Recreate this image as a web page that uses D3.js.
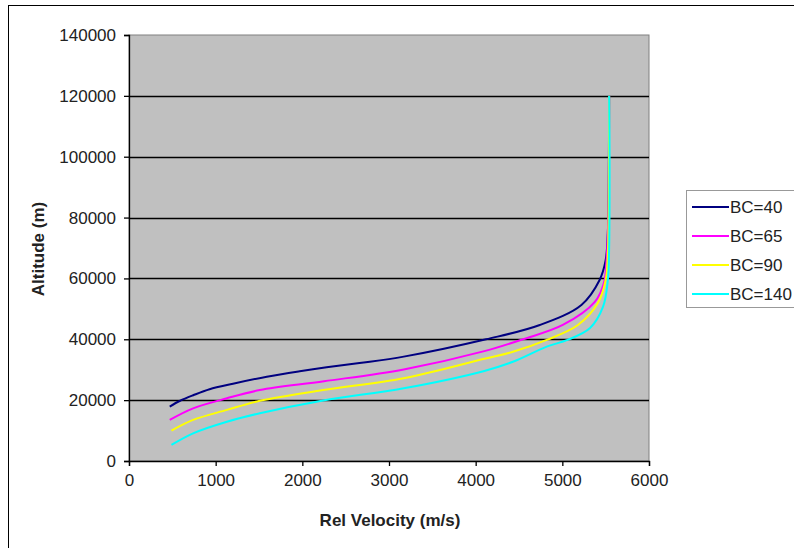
<!DOCTYPE html>
<html>
<head>
<meta charset="utf-8">
<script src="https://cdn.jsdelivr.net/npm/d3@7"></script>
<style>
  body { margin: 0; background: #fff; }
  svg text { font-family: Arial, "Liberation Sans", sans-serif; fill: #222; }
</style>
</head>
<body>
<div id="chart"></div>
<script>
// series names and colours
const seriesNames = ["BC=40", "BC=65", "BC=90", "BC=140"];
const seriesColors = ["#000080", "#ff00ff", "#ffff00", "#00ffff"];

// velocity (m/s) / altitude (m)
const velBC40 = [470, 590, 740, 930, 1200, 1590, 1970, 2280, 2660, 3170, 4120, 4740, 5220, 5430, 5500, 5525, 5535, 5540];
const altBC40 = [17900, 19800, 21600, 23600, 25400, 27700, 29500, 30800, 32200, 34300, 40000, 44700, 51300, 59500, 66000, 75000, 90000, 120000];

const velBC65 = [470, 740, 1130, 1510, 2250, 3170, 4100, 4545, 5005, 5375, 5480, 5510, 5530, 5540];
const altBC65 = [13500, 17300, 20600, 23300, 26200, 30100, 36100, 40000, 44700, 52300, 58500, 66000, 80000, 120000];

const velBC90 = [490, 740, 1130, 1510, 2240, 3170, 4100, 4430, 4820, 5180, 5410, 5500, 5525, 5535, 5540];
const altBC90 = [10000, 13500, 16800, 19800, 23300, 27200, 33600, 35900, 39800, 44700, 51900, 59500, 68000, 85000, 120000];

const velBC140 = [490, 740, 1130, 1510, 2240, 3170, 4100, 4430, 4820, 5060, 5320, 5470, 5525, 5540, 5545, 5540];
const altBC140 = [5300, 9100, 12900, 15700, 19900, 23900, 29600, 32600, 37600, 39800, 43700, 50700, 59500, 70000, 100000, 120000];

const xTicks = [0, 1000, 2000, 3000, 4000, 5000, 6000];
const yTicks = [0, 20000, 40000, 60000, 80000, 100000, 120000, 140000];

const seriesVel = [velBC40, velBC65, velBC90, velBC140];
const seriesAlt = [altBC40, altBC65, altBC90, altBC140];

const W = 794, H = 548;
const plot = { left: 129, right: 649, top: 35, bottom: 461 };

const svg = d3.select("#chart").append("svg").attr("width", W).attr("height", H);

// outer chart frame
svg.append("rect").attr("x", 8.5).attr("y", 5.5).attr("width", 820).attr("height", 580)
  .attr("fill", "#fff").attr("stroke", "#000").attr("stroke-width", 1);

const x = d3.scaleLinear().domain([0, 6000]).range([plot.left, plot.right]);
const y = d3.scaleLinear().domain([0, 140000]).range([plot.bottom, plot.top]);

// plot area
svg.append("rect").attr("x", plot.left).attr("y", plot.top)
  .attr("width", plot.right - plot.left).attr("height", plot.bottom - plot.top)
  .attr("fill", "#c0c0c0").attr("stroke", "#808080").attr("stroke-width", 1);

// gridlines
svg.append("g").selectAll("line").data(yTicks.filter(d => d > 0 && d < 140000)).enter().append("line")
  .attr("x1", plot.left).attr("x2", plot.right)
  .attr("y1", d => Math.round(y(d)) + 0.5).attr("y2", d => Math.round(y(d)) + 0.5)
  .attr("stroke", "#000").attr("stroke-width", 1.3);

// axes
const xAxis = svg.append("g").attr("transform", "translate(0," + plot.bottom + ")")
  .call(d3.axisBottom(x).tickValues(xTicks).tickSize(5).tickPadding(8).tickFormat(d3.format("d")));
const yAxis = svg.append("g").attr("transform", "translate(" + plot.left + ",0)")
  .call(d3.axisLeft(y).tickValues(yTicks).tickSize(5).tickPadding(8).tickFormat(d3.format("d")));

[xAxis, yAxis].forEach(a => {
  a.select(".domain").attr("stroke", "#000").attr("stroke-width", 1.3);
  a.selectAll(".tick line").attr("stroke", "#000").attr("stroke-width", 1.3);
  a.selectAll(".tick text").attr("font-size", 17).attr("font-family", "Arial, 'Liberation Sans', sans-serif").attr("fill", "#222");
});

// series lines
const line = d3.line().curve(d3.curveCatmullRom.alpha(0.5));
seriesNames.forEach((name, i) => {
  const pts = seriesVel[i].map((v, j) => [x(v), y(seriesAlt[i][j])]);
  svg.append("path").attr("d", line(pts)).attr("fill", "none")
    .attr("stroke", seriesColors[i]).attr("stroke-width", 2);
});

// axis titles
svg.append("text").attr("x", 390).attr("y", 526).attr("text-anchor", "middle")
  .attr("font-size", 17).attr("font-weight", "bold").text("Rel Velocity (m/s)");
svg.append("text").attr("transform", "translate(44,249) rotate(-90)").attr("text-anchor", "middle")
  .attr("font-size", 17).attr("font-weight", "bold").text("Altitude (m)");

// legend
const legend = svg.append("g");
legend.append("rect").attr("x", 686.5).attr("y", 190.5).attr("width", 130).attr("height", 117)
  .attr("fill", "#fff").attr("stroke", "#999").attr("stroke-width", 1);
seriesNames.forEach((name, i) => {
  const ly = 207 + i * 29;
  legend.append("line").attr("x1", 692).attr("x2", 729).attr("y1", ly).attr("y2", ly)
    .attr("stroke", seriesColors[i]).attr("stroke-width", 2);
  legend.append("text").attr("x", 730).attr("y", ly + 6).attr("font-size", 17).text(name);
});
</script>
</body>
</html>
